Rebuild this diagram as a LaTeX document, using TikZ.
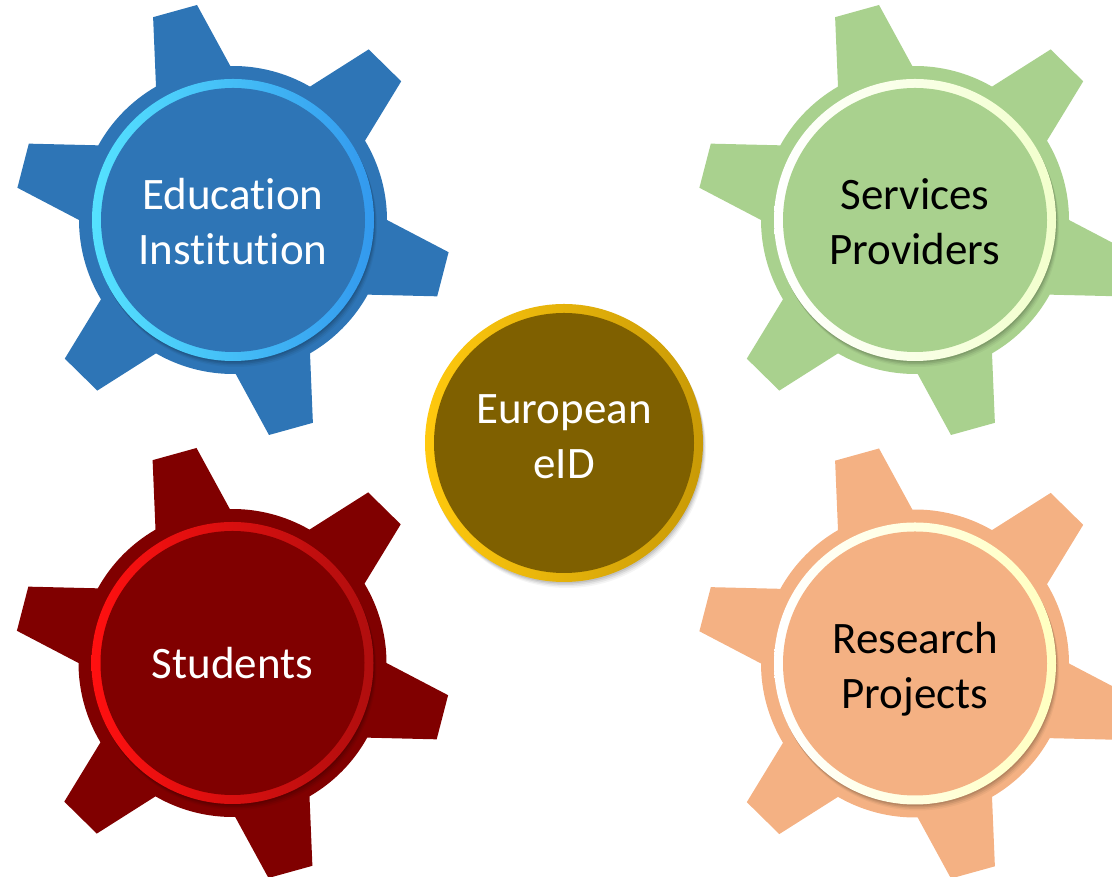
\documentclass[tikz,border=0pt]{standalone}
\usepackage{fontspec}
\setmainfont{Carlito}[Ligatures={NoCommon,NoContextual,NoRare}]
\definecolor{gblue}{HTML}{2E75B6}
\definecolor{ggreen}{HTML}{A9D18E}
\definecolor{gred}{HTML}{800000}
\definecolor{gorange}{HTML}{F4B183}
\definecolor{ggold}{HTML}{7F6000}
\definecolor{rblueL}{HTML}{55E2FF}
\definecolor{rblueR}{HTML}{3399EE}
\definecolor{rgreenR}{HTML}{F2FFCC}
\definecolor{rredL}{HTML}{FF1010}
\definecolor{rredR}{HTML}{B00E0E}
\definecolor{rorangeR}{HTML}{FFFFC0}
\definecolor{rgoldL}{HTML}{FFC90E}
\definecolor{rgoldR}{HTML}{C99A06}
\newcommand\gearbody[3]{%
  \begin{scope}[shift={(#1,#2)}]
    \fill[#3] (91:154pt)
      \foreach \a in {105.5,165.5,225.5,285.5,345.5,405.5}{
        -- (\a-6:218pt) -- (\a+6:218pt) -- (\a+14.5:154pt)
        arc[start angle=\a+14.5, end angle=\a+45.5, radius=154pt]
      } -- cycle;
  \end{scope}}
\newcommand\ringdisc[6]{% cx cy fill leftcol rightcol outer radius
  \foreach \s/\o in {6/0.04,4.5/0.06,3/0.08,1.5/0.09}{
    \fill[black,opacity=\o] (#1+\s*0.5,#2-\s) circle[radius=#6pt];
  }
  \shade[left color=#4, right color=#5] (#1,#2) circle[radius=#6pt];
  \fill[#3] (#1,#2) circle[radius=#6pt-9pt];}
\tikzset{lbl/.style={align=center, inner sep=0pt, font=\fontsize{45pt}{55pt}\selectfont}}
\begin{document}
\begin{tikzpicture}[x=1pt,y=1pt]
\useasboundingbox (0,0) rectangle (1112,877);
\clip (0,0) rectangle (1112,877);
% gears
\gearbody{233}{657}{gblue}
\gearbody{915}{657}{ggreen}
\gearbody{232.5}{214}{gred}
\gearbody{915}{213.5}{gorange}
% rings
\ringdisc{233}{657}{gblue}{rblueL}{rblueR}{141}
\ringdisc{915}{657}{ggreen}{white}{rgreenR}{141}
\ringdisc{232.5}{214}{gred}{rredL}{rredR}{141}
\ringdisc{915}{213.5}{gorange}{white}{rorangeR}{141}
\ringdisc{564}{434}{ggold}{rgoldL}{rgoldR}{139}
% labels
\node[lbl, text=white] (edu) at (233,655) {Education\\Institution};
\node[lbl, text=black] (srv) at (915,655) {Services\\Providers};
\node[lbl, text=white] (stu) at (232.5,213.5) {Students};
\node[lbl, text=black] (res) at (915,207.5) {Research\\Projects};
\node[lbl, text=white] (eid) at (564,440.5) {European\\eID};
\end{tikzpicture}
\end{document}
